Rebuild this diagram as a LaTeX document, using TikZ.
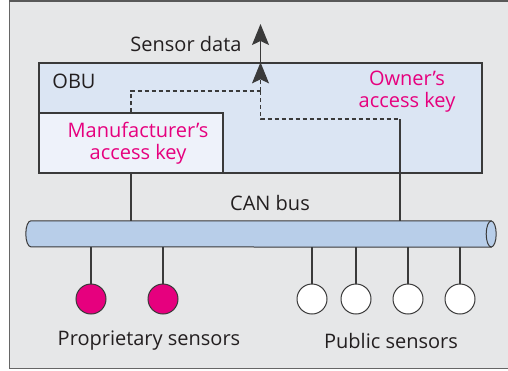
\documentclass[tikz,border=0pt]{standalone}
\usepackage{fontspec}
\setmainfont{Open Sans}
\usepackage{tikz}
\usetikzlibrary{arrows.meta}

\definecolor{framegray}{HTML}{E6E7E8}
\definecolor{obublue}{HTML}{DBE5F3}
\definecolor{keyblue}{HTML}{EEF2FA}
\definecolor{busblue}{HTML}{B8CEE9}
\definecolor{keypink}{HTML}{E6007E}
\definecolor{ink}{HTML}{231F20}
\definecolor{wire}{HTML}{3A3A3A}

\tikzset{
  box/.style={draw=wire, line width=1.3pt, rectangle, inner sep=0pt},
  sensor/.style={draw=wire, line width=1pt, circle, minimum size=30pt, inner sep=0pt},
  wireline/.style={draw=wire, line width=1.1pt},
  dashlink/.style={draw=wire, line width=1.1pt, dash pattern=on 4pt off 3pt},
  label/.style={text=ink, font=\fontsize{20}{22}\selectfont},
  keylabel/.style={text=keypink, font=\fontsize{20}{22}\selectfont, align=center}
}

\begin{document}
\begin{tikzpicture}[x=1pt,y=-1pt,>={Stealth[length=21pt,width=17pt,inset=4pt]}]
\useasboundingbox (0,0) rectangle (508,370);
\filldraw[fill=framegray, draw=gray!80!black, line width=0.9pt] (9,368) -- (9,1) -- (512,1) -- (512,368) -- cycle;
\draw[gray!70!black, line width=1.6pt] (9,1) -- (512,1);

% on-board unit with the two keys
\node[box, fill=obublue, minimum width=443pt, minimum height=110pt] (obu) at (260.5,118) {};
\node[box, fill=keyblue, minimum width=184pt, minimum height=60pt] (mfr) at (131,143) {};

\node[label] (obulbl) at (74,81) {OBU};
\node[keylabel] (ownkey) at (407,91.5) {Owner’s\\access key};
\node[keylabel] (mfrkey) at (138,143) {Manufacturer’s\\access key};

% CAN bus as a pipe
\node[minimum width=460pt, minimum height=26pt, inner sep=0pt] (bus) at (261,234) {};
\filldraw[fill=busblue, draw=wire, line width=1pt]
  (bus.north east) -- (bus.north west)
  arc[start angle=90, end angle=270, x radius=5pt, y radius=13pt]
  -- (bus.south east) -- cycle;
\filldraw[fill=busblue, draw=wire, line width=1pt] (bus.east) ellipse (5pt and 13pt);
\node[label] (buslbl) at (270,203) {CAN bus};

% sensors
\foreach \x [count=\i] in {91,163} {
  \node[sensor, fill=keypink] (p\i) at (\x,299) {};
  \draw[wireline] (p\i) -- (p\i |- bus.south);
}
\foreach \x [count=\i] in {312,356,408,460} {
  \node[sensor, fill=white] (q\i) at (\x,299) {};
  \draw[wireline] (q\i) -- (q\i |- bus.south);
}
\node[label] (proplbl) at (149,341) {Proprietary sensors};
\node[label] (publbl) at (391,341) {Public sensors};

% data paths
\coordinate (J) at (260.5,91);
\coordinate (K) at (400,119);
\coordinate (out) at (260.5,24);
\draw[wireline] (mfr.south) -- (mfr.south |- bus.north);
\draw[wireline] (K) -- (K |- bus.north);
\draw[dashlink] (mfr.north) |- (J);
\draw[dashlink] (J) |- (K);
\draw[dashlink, ->] (J) -- (obu.north);
\draw[wireline, ->] (obu.north) -- (out);
\node[label, anchor=east] (datalbl) at (245,44) {Sensor data};
\end{tikzpicture}
\end{document}
